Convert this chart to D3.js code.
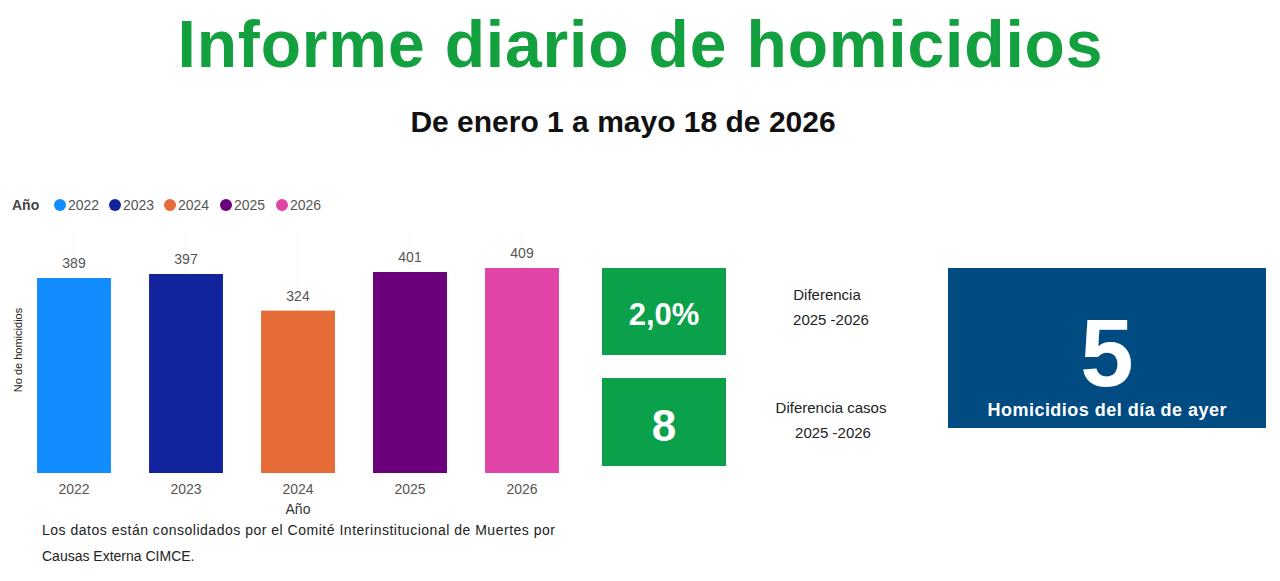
<!DOCTYPE html>
<html><head><meta charset="utf-8">
<script src="https://cdn.jsdelivr.net/npm/d3@7"></script>
<style>body{margin:0;background:#fff;font-family:"Liberation Sans",Arial,sans-serif}</style>
</head><body>
<svg id="c" width="1280" height="581"></svg>
<script>
const years = ["2022","2023","2024","2025","2026"];
const values = [389,397,324,401,409];
const colors = ["#118dff","#12239e","#e66c37","#6b007b","#e044a7"];
const pctDiff = "2,0%";
const caseDiff = "8";
const yesterday = "5";

const svg = d3.select("#c");
svg.append("rect").attr("width",1280).attr("height",581).attr("fill","#fff");
svg.append("text").attr("x",640).attr("y",67).attr("text-anchor","middle")
  .attr("font-size",66).attr("font-weight","bold").attr("fill","#13a03f").attr("textLength",925).text("Informe diario de homicidios");
svg.append("text").attr("x",623).attr("y",132).attr("text-anchor","middle")
  .attr("font-size",30).attr("font-weight","bold").attr("fill","#111").text("De enero 1 a mayo 18 de 2026");

// legend
const lg = svg.append("g").attr("font-size",14).attr("fill","#555");
lg.append("text").attr("x",12).attr("y",210).attr("font-weight","bold").attr("fill","#444").text("Año");
const lx=[60,115,170,226,282];
years.forEach((y,i)=>{
  lg.append("circle").attr("cx",lx[i]).attr("cy",205).attr("r",6).attr("fill",colors[i]);
  lg.append("text").attr("x",lx[i]+8).attr("y",210).attr("fill","#555").text(y);
});

const x = d3.scaleBand().domain(years).range([18,578]).paddingInner(0.34).paddingOuter(0.17);
const y = d3.scaleLinear().domain([0,409]).range([473,268]);
const g = svg.append("g");
g.selectAll("line.grid").data(years).join("line")
  .attr("x1",d=>x(d)+x.bandwidth()/2).attr("x2",d=>x(d)+x.bandwidth()/2)
  .attr("y1",232).attr("y2",473).attr("stroke","#ddd").attr("stroke-dasharray","1,3");
g.selectAll("rect.bar").data(values).join("rect")
  .attr("x",(d,i)=>x(years[i])).attr("width",x.bandwidth())
  .attr("y",d=>y(d)).attr("height",d=>y(0)-y(d)).attr("fill",(d,i)=>colors[i]);
g.selectAll("text.lab").data(values).join("text")
  .attr("x",(d,i)=>x(years[i])+x.bandwidth()/2).attr("y",d=>y(d)-10)
  .attr("text-anchor","middle").attr("font-size",14).attr("fill","#555").text(d=>d);
const ax = svg.append("g").attr("transform","translate(0,473)")
  .call(d3.axisBottom(x).tickSize(0).tickPadding(11));
ax.select(".domain").remove();
ax.selectAll("text").attr("font-size",14).attr("fill","#555").attr("font-family","Liberation Sans, Arial");
svg.append("text").attr("x",298).attr("y",514).attr("text-anchor","middle").attr("font-size",14).attr("fill","#333").text("Año");
svg.append("text").attr("transform","translate(22,350) rotate(-90)").attr("text-anchor","middle")
  .attr("font-size",11).attr("fill","#222").text("No de homicidios");
svg.append("text").attr("x",42).attr("y",535).attr("font-size",14).attr("fill","#222").attr("textLength",513)
  .text("Los datos están consolidados por el Comité Interinstitucional de Muertes por");
svg.append("text").attr("x",42).attr("y",561).attr("font-size",14).attr("fill","#222")
  .text("Causas Externa CIMCE.");

// cards
svg.append("rect").attr("x",602).attr("y",268).attr("width",124).attr("height",87).attr("fill","#0aa14a");
svg.append("text").attr("x",664).attr("y",325).attr("text-anchor","middle").attr("font-size",31).attr("font-weight","bold").attr("fill","#fff").text(pctDiff);
svg.append("rect").attr("x",602).attr("y",378).attr("width",124).attr("height",88).attr("fill","#0aa14a");
svg.append("text").attr("x",664).attr("y",441).attr("text-anchor","middle").attr("font-size",44).attr("font-weight","bold").attr("fill","#fff").text(caseDiff);
const tl=[["Diferencia",827,300],["2025 -2026",831,325],["Diferencia casos",831,413],["2025 -2026",833,438]];
tl.forEach(t=>svg.append("text").attr("x",t[1]).attr("y",t[2]).attr("text-anchor","middle").attr("font-size",15).attr("fill","#222").text(t[0]));
svg.append("rect").attr("x",948).attr("y",268).attr("width",318).attr("height",160).attr("fill","#004b82");
svg.append("text").attr("x",1107).attr("y",386).attr("text-anchor","middle").attr("font-size",96).attr("font-weight","bold").attr("fill","#fff").text(yesterday);
svg.append("text").attr("x",1107).attr("y",416).attr("text-anchor","middle").attr("font-size",18).attr("font-weight","bold").attr("fill","#fff").attr("textLength",239).text("Homicidios del día de ayer");
</script></body></html>
